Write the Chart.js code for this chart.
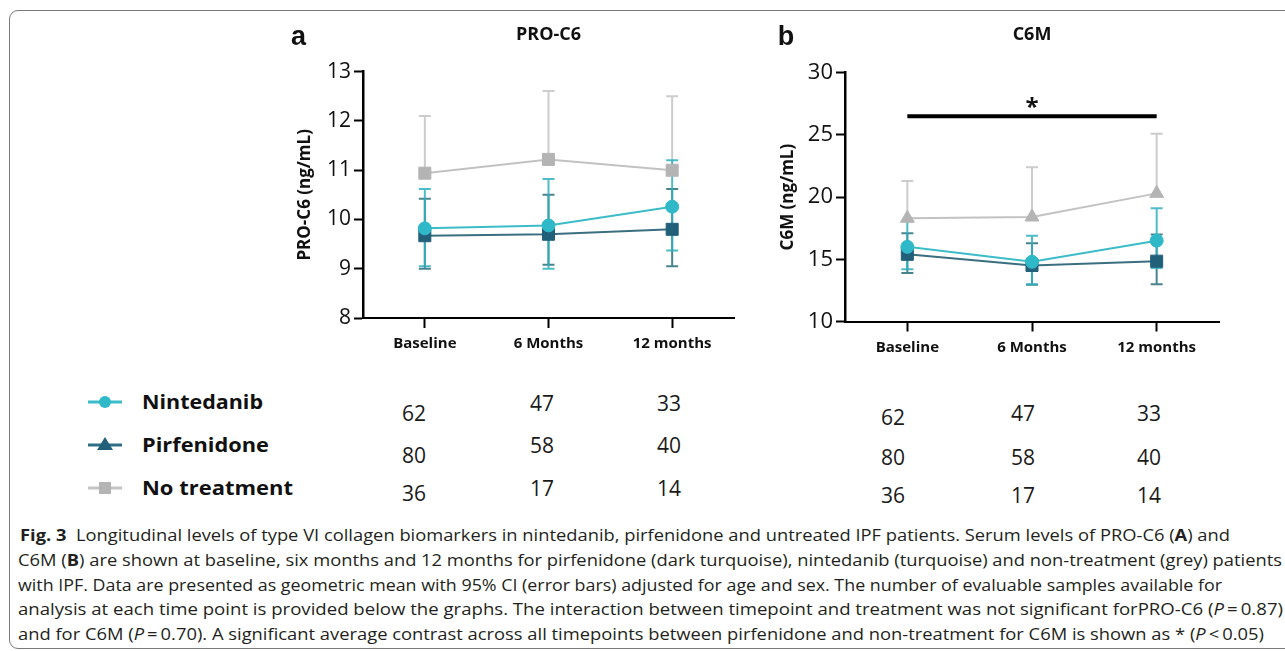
<!DOCTYPE html>
<html lang="en">
<head>
<meta charset="UTF-8">
<title>Fig. 3 - PRO-C6 and C6M</title>
<script src="https://cdn.jsdelivr.net/npm/chart.js"></script>
<style>
  body { margin: 0; background: #fff; font-family: "Open Sans", Arial, sans-serif; }
  #page { position: relative; width: 1285px; height: 651px; overflow: hidden; background: #fff; }
  .frame { position: absolute; left: 9px; top: 10px; width: 1320px; height: 639px; border: 1.5px solid #7a7a7a; border-radius: 9px; box-sizing: border-box; }
  canvas { position: absolute; top: 0; }
  .lg { position: absolute; left: 142px; font-weight: 700; font-size: 19px; line-height: 24px; color: #111; white-space: nowrap; transform-origin: 0 50%; }
  .num { position: absolute; font-size: 21px; line-height: 26px; color: #1a1a1a; white-space: nowrap; }
  .cap { position: absolute; font-size: 15.5px; line-height: 20px; color: #231f20; white-space: nowrap; transform-origin: 0 50%; }
  #marks { position: absolute; left: 0; top: 0; }
</style>
</head>
<body>
<div id="page">
  <div class="frame"></div>
  <canvas id="chartA" width="470" height="370" style="left:280px"></canvas>
  <canvas id="chartB" width="480" height="370" style="left:760px"></canvas>

  <svg id="marks" width="140" height="520">
    <line x1="88" y1="402" x2="122" y2="402" stroke="#3bbcc8" stroke-width="3"/>
    <circle cx="105" cy="402" r="6" fill="#2fb8c8"/>
    <line x1="88" y1="445" x2="122" y2="445" stroke="#2f6f83" stroke-width="3"/>
    <polygon points="105,437 113,450 97,450" fill="#22607a"/>
    <line x1="88" y1="488" x2="122" y2="488" stroke="#c4c4c4" stroke-width="3"/>
    <rect x="99" y="482" width="12" height="12" fill="#b4b4b4"/>
  </svg>
  <div id="legend"></div>
  <div id="counts"></div>

  <div class="cap" style="left:20px; top:525px" data-w="1210"><b>Fig. 3</b>&nbsp; Longitudinal levels of type VI collagen biomarkers in nintedanib, pirfenidone and untreated IPF patients. Serum levels of PRO-C6 (<b>A</b>) and</div>
  <div class="cap" style="left:18px; top:550px" data-w="1264">C6M (<b>B</b>) are shown at baseline, six months and 12 months for pirfenidone (dark turquoise), nintedanib (turquoise) and non-treatment (grey) patients</div>
  <div class="cap" style="left:18px; top:575px" data-w="1204">with IPF. Data are presented as geometric mean with 95% CI (error bars) adjusted for age and sex. The number of evaluable samples available for</div>
  <div class="cap" style="left:18px; top:599px" data-w="1265">analysis at each time point is provided below the graphs. The interaction between timepoint and treatment was not significant forPRO-C6 (<i>P</i>&thinsp;=&thinsp;0.87)</div>
  <div class="cap" style="left:18px; top:624px" data-w="1246">and for C6M (<i>P</i>&thinsp;=&thinsp;0.70). A significant average contrast across all timepoints between pirfenidone and non-treatment for C6M is shown as * (<i>P</i>&thinsp;&lt;&thinsp;0.05)</div>
</div>

<script>
// time points on the x axis
const timepoints = ['Baseline', '6 Months', '12 months'];
const groups = ['Nintedanib', 'Pirfenidone', 'No treatment'];

// PRO-C6 (ng/mL), geometric mean with 95% CI
const proNintedanib   = [9.82, 9.88, 10.26];
const proNintedanibLo = [9.05, 9.0, 9.37];
const proNintedanibHi = [10.62, 10.82, 11.2];
const proPirfenidone   = [9.67, 9.7, 9.8];
const proPirfenidoneLo = [9.0, 9.08, 9.05];
const proPirfenidoneHi = [10.42, 10.5, 10.62];
const proNone   = [10.94, 11.22, 11.0];
const proNoneHi = [12.1, 12.61, 12.5];

// C6M (ng/mL)
const c6mNintedanib   = [16.0, 14.8, 16.5];
const c6mNintedanibLo = [14.2, 13.0, 14.3];
const c6mNintedanibHi = [18.1, 16.9, 19.1];
const c6mPirfenidone   = [15.4, 14.5, 14.85];
const c6mPirfenidoneLo = [13.9, 12.95, 13.0];
const c6mPirfenidoneHi = [17.1, 16.3, 17.0];
const c6mNone   = [18.3, 18.4, 20.3];
const c6mNoneHi = [21.3, 22.4, 25.1];
const c6mSigLevel = 26.5;

// evaluable samples per time point
const nNintedanib  = [62, 47, 33];
const nPirfenidone = [80, 58, 40];
const nNone        = [36, 17, 14];

const cTurq = '#2fb8c8', cDark = '#22607a', cGrey = '#b4b4b4';

// draws the CI whiskers through the chart scales
const errorBars = {
    id: 'errorBars',
    beforeDatasetsDraw(chart) {
        const { ctx, scales: { x, y } } = chart;
        const sets = chart.data.datasets;
        for (let i = sets.length - 1; i >= 0; i--) {
            const ds = sets[i];
            if (!ds.errHi) continue;
            ctx.save();
            ctx.strokeStyle = ds.errColor;
            ctx.lineWidth = 2;
            ds.data.forEach((v, j) => {
                const px = x.getPixelForValue(j);
                const top = y.getPixelForValue(ds.errHi[j]);
                const bot = y.getPixelForValue(ds.errLo ? ds.errLo[j] : v);
                ctx.beginPath();
                ctx.moveTo(px, top); ctx.lineTo(px, bot);
                ctx.moveTo(px - 6, top); ctx.lineTo(px + 6, top);
                if (ds.errLo) { ctx.moveTo(px - 6, bot); ctx.lineTo(px + 6, bot); }
                ctx.stroke();
            });
            ctx.restore();
        }
    }
};

// panel letter, title and significance star
const panelText = {
    id: 'panelText',
    afterDraw(chart, args, opts) {
        const { ctx, chartArea } = chart;
        ctx.save();
        ctx.fillStyle = '#111';
        ctx.textAlign = 'center';
        ctx.textBaseline = 'middle';
        ctx.font = 'bold 27px Arial';
        ctx.fillText(opts.letter, opts.letterX, 38);
        ctx.font = 'bold 18px "Open Sans"';
        ctx.fillText(opts.title, (chartArea.left + chartArea.right) / 2, 35);
        if (opts.star != null) {
            ctx.font = 'bold 24px "Open Sans"';
            const sx = chart.scales.x.getPixelForValue(1);
            const sy = chart.scales.y.getPixelForValue(opts.star);
            ctx.fillText('*', sx, sy - 8);
        }
        ctx.restore();
    }
};

function series(label, data, lo, hi, color, lineColor, errColor, style, radius) {
    return {
        label, data, errLo: lo, errHi: hi, errColor,
        borderColor: lineColor, borderWidth: 2,
        pointStyle: style, pointRadius: radius, pointHoverRadius: radius,
        pointBackgroundColor: color, pointBorderColor: color, pointBorderWidth: 1,
        tension: 0
    };
}

function makePanel(id, cfg) {
    new Chart(document.getElementById(id), {
        type: 'line',
        data: { labels: timepoints, datasets: cfg.datasets },
        options: {
            responsive: false,
            animation: false,
            events: [],
            layout: { padding: { top: cfg.top, left: 0, right: cfg.right, bottom: 0 } },
            plugins: {
                legend: { display: false },
                tooltip: { enabled: false },
                panelText: cfg.text
            },
            scales: {
                x: {
                    type: 'category',
                    offset: true,
                    grid: { drawOnChartArea: false, drawTicks: true, tickLength: 10, tickWidth: 2, tickColor: '#000' },
                    border: { display: true, color: '#000', width: 2 },
                    ticks: { color: '#111', padding: cfg.xPad, font: { family: 'Open Sans', size: 15, weight: 'bold' } },
                    afterFit: s => { s.height = cfg.xHeight; }
                },
                y: {
                    min: cfg.min, max: cfg.max,
                    ticks: { stepSize: cfg.step, color: '#111', padding: 3, font: { family: 'Open Sans', size: cfg.tickSize } },
                    grid: { drawOnChartArea: false, drawTicks: true, tickLength: 9, tickWidth: 2, tickColor: '#000' },
                    border: { display: true, color: '#000', width: 2.5 },
                    title: { display: true, text: cfg.yTitle, color: '#111', padding: { top: cfg.titlePad, bottom: 0 },
                             font: { family: 'Open Sans', size: 17, weight: 'bold' } },
                    afterFit: s => { s.width = cfg.yWidth; }
                }
            }
        },
        plugins: [errorBars, panelText]
    });
}

makePanel('chartA', {
    datasets: [
        series('Nintedanib', proNintedanib, proNintedanibLo, proNintedanibHi, cTurq, '#3bbcc8', 'rgba(47,176,190,0.85)', 'circle', 6.5),
        series('Pirfenidone', proPirfenidone, proPirfenidoneLo, proPirfenidoneHi, cDark, '#3a6f80', 'rgba(40,110,125,0.85)', 'rect', 8.5),
        series('No treatment', proNone, null, proNoneHi, cGrey, '#c2c2c2', '#cccccc', 'rect', 8.5)
    ],
    top: 71.7, right: 16, yWidth: 83, xHeight: 52, xPad: 7, titlePad: 15,
    min: 8, max: 13, step: 1, tickSize: 21, yTitle: 'PRO-C6 (ng/mL)',
    text: { letter: 'a', letterX: 18.5, title: 'PRO-C6', star: null }
});

makePanel('chartB', {
    datasets: [
        series('Nintedanib', c6mNintedanib, c6mNintedanibLo, c6mNintedanibHi, cTurq, '#3bbcc8', 'rgba(47,176,190,0.85)', 'circle', 6.5),
        series('Pirfenidone', c6mPirfenidone, c6mPirfenidoneLo, c6mPirfenidoneHi, cDark, '#3a6f80', 'rgba(40,110,125,0.85)', 'rect', 8.5),
        series('No treatment', c6mNone, null, c6mNoneHi, cGrey, '#c2c2c2', '#cccccc', 'triangle', 8),
        { label: 'sig', data: timepoints.map(() => c6mSigLevel), borderColor: '#000', borderWidth: 4, pointRadius: 0 }
    ],
    top: 72.7, right: 21, yWidth: 85, xHeight: 48.5, xPad: 7, titlePad: 18,
    min: 10, max: 30, step: 5, tickSize: 22, yTitle: 'C6M (ng/mL)',
    text: { letter: 'b', letterX: 26, title: 'C6M', star: c6mSigLevel }
});

// legend names and sample counts under the graphs
const legendY = [402, 445, 488];
const legendW = [121, 127, 151];
const counts = [nNintedanib, nPirfenidone, nNone];
const colX = [414, 542, 669, 893, 1023, 1149];
const rowY = [[413, 455, 493], [403, 445, 488], [403, 445, 488],
              [417, 457, 495], [413, 457, 495], [413, 457, 495]];

const legend = document.getElementById('legend');
groups.forEach((g, i) => {
    const d = document.createElement('div');
    d.className = 'lg';
    d.textContent = g;
    d.style.top = (legendY[i] - 12) + 'px';
    d.dataset.w = legendW[i];
    legend.appendChild(d);
});

const countBox = document.getElementById('counts');
colX.forEach((cx, c) => {
    counts.forEach((row, r) => {
        const d = document.createElement('div');
        d.className = 'num';
        d.textContent = row[c % 3];
        countBox.appendChild(d);
        const w = d.getBoundingClientRect().width;
        d.style.left = (cx - w / 2) + 'px';
        d.style.top = (rowY[c][r] - 13) + 'px';
    });
});

document.fonts.ready.then(() => {
    document.querySelectorAll('[data-w]').forEach(el => {
        const w = el.getBoundingClientRect().width;
        el.style.transform = 'scaleX(' + (Number(el.dataset.w) / w) + ')';
    });
});
</script>
</body>
</html>
